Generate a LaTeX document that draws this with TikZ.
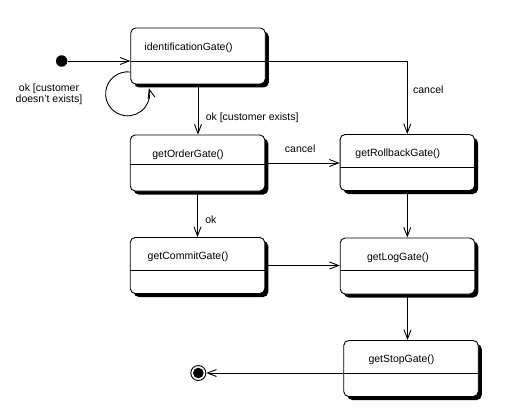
\documentclass[tikz,border=0pt]{standalone}
\usepackage{fontspec}
\setmainfont{Liberation Sans}
\usetikzlibrary{arrows.meta,shadows}
\tikzset{
  gatebox/.style={draw,fill=white,rounded corners=5pt,minimum width=134.5pt,minimum height=56pt,inner sep=0pt,
    drop shadow={shadow xshift=3.5pt,shadow yshift=-3.5pt,opacity=1,fill=black}},
  divider/.style={path picture={\draw ([yshift=-#1pt]path picture bounding box.north west) -- ([yshift=-#1pt]path picture bounding box.north east);}},
  startdot/.style={circle,fill,inner sep=0pt,minimum size=11.5pt},
  enddot/.style={circle,draw,fill=white,inner sep=0pt,minimum size=15pt,
    path picture={\fill[black] (path picture bounding box.center) circle (5.3pt);}}
}
\begin{document}
\begin{tikzpicture}[x=1pt,y=-1pt,>={Straight Barb[length=9pt,width=7pt]},line width=0.9pt,line join=round,font=\fontsize{10.5}{11}\selectfont]
    \useasboundingbox (0,0) rectangle (518,417);
    \foreach \n/\x/\y/\s/\lbl in {idg/198/56/33/identificationGate(),ord/197.5/163/29/getOrderGate(),rb/407.3/162.5/33/getRollbackGate(),com/197.5/265.5/33/getCommitGate(),log/407.5/266/32/getLogGate(),stop/411/368.5/33/getStopGate()}
    {
        \node[gatebox,divider=\s] (\n) at (\x,\y) {};
        \node[anchor=base] (\n-txt) at ([xshift=-9.5pt,yshift=-22.5pt]\n.north) {\lbl};
    }
    \node[startdot] (init) at (61.7,61) {};
    \node[enddot] (fin) at (198.3,373) {};
    \draw[->] (init) -- (idg.west |- init);
    \draw[->] ([yshift=-16pt]idg.west) arc[start angle=-83,end angle=-375,radius=22];
    \node[align=center] (loop-lbl) at (49,94) {ok [customer\\doesn't exists]};
    \draw[->] (idg.south) -- node[right,pos=0.66,xshift=4pt] {ok [customer exists]} (idg.south |- ord.north);
    \draw[->] (idg.east |- init) -| node[right,pos=0.7,xshift=2pt] {cancel} (rb.north);
    \draw[->] (ord.east) -- node[above=7pt,pos=0.47] {cancel} (rb.west |- ord.east);
    \draw[->] (ord.south) -- node[right,pos=0.62,xshift=4pt] {ok} (ord.south |- com.north);
    \draw[->] (com.east) -- (log.west |- com.east);
    \draw[->] (rb.south) -- (rb.south |- log.north);
    \draw[->] (log.south) -- (log.south |- stop.north);
    \draw[->] (stop.west |- fin) -- (fin);
\end{tikzpicture}
\end{document}
